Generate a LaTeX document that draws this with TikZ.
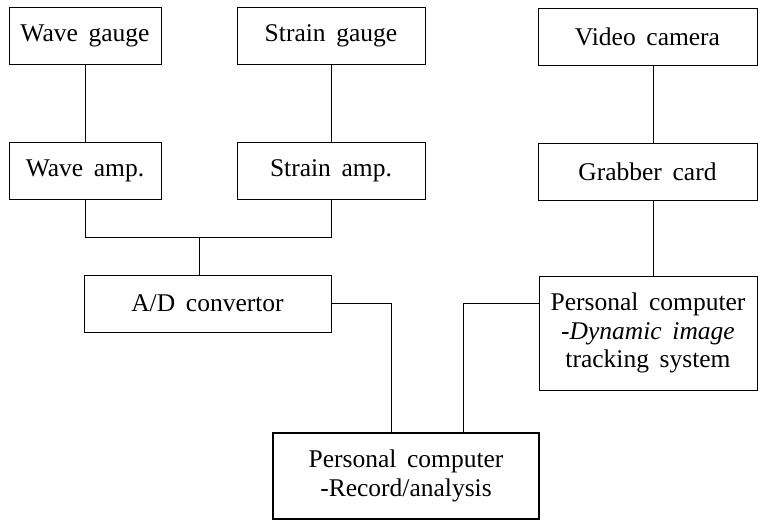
\documentclass[tikz,border=0pt]{standalone}
\usepackage{fontspec}
\setmainfont{Liberation Serif}
\newcommand{\myboxfont}{\fontsize{25.5}{28.5}\selectfont\spaceskip=0.42em\relax}
\begin{document}
\begin{tikzpicture}[x=1pt,y=-1pt,
  box/.style={draw, line width=0.9pt, rectangle, inner sep=0pt, align=center,
    font=\myboxfont},
  thickbox/.style={box, line width=1.8pt},
  wire/.style={line width=0.9pt}]
\useasboundingbox (0,0) rectangle (758,522);
\node[box, minimum width=152pt, minimum height=57pt] (wg) at (85,35.5) {Wave gauge};
\node[box, minimum width=188pt, minimum height=57pt] (sg) at (331,35.5) {Strain gauge};
\node[box, minimum width=219pt, minimum height=57pt] (vc) at (647.5,36.5) {Video camera};
\node[box, minimum width=152pt, minimum height=57pt] (wa) at (85,170.5) {Wave amp.};
\node[box, minimum width=188pt, minimum height=57pt] (sa) at (331,170.5) {Strain amp.};
\node[box, minimum width=219pt, minimum height=57pt] (gc) at (647.5,171.5) {Grabber card};
\node[box, minimum width=247pt, minimum height=57pt] (ad) at (207.5,303.5) {A/D convertor};
\node[box, minimum width=218pt, minimum height=114pt] (pd) at (648,333) {Personal computer\\-\textit{Dynamic image}\\tracking system};
\node[thickbox, minimum width=266pt, minimum height=86pt] (pr) at (406,476) {Personal computer\\-Record/analysis};
\coordinate (vx) at (653,0);
\coordinate (j) at (199,237);
\coordinate (k) at (391,0);
\coordinate (m) at (463,0);
\draw[wire] (wg.south) -- (wa.north);
\draw[wire] (sg.south) -- (sa.north);
\draw[wire] (vc.south -| vx) -- (gc.north -| vx);
\draw[wire] (wa.south) -- (wa.south |- j) -- (sa.south |- j) -- (sa.south);
\draw[wire] (j) -- (ad.north -| j);
\draw[wire] (gc.south -| vx) -- (pd.north -| vx);
\draw[wire] (ad.east) -| (pr.north -| k);
\draw[wire] (pd.west |- ad.east) -| (pr.north -| m);
\end{tikzpicture}
\end{document}
